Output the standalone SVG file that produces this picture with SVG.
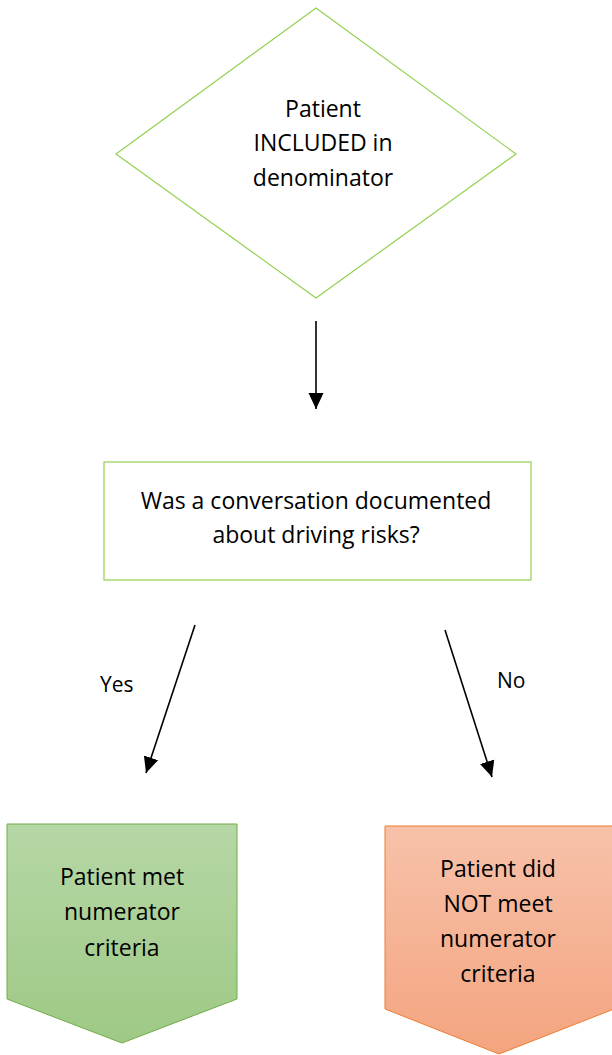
<svg xmlns="http://www.w3.org/2000/svg" width="612" height="1055" viewBox="0 0 612 1055">
  <style>
    .lbl { font-family: "Open Sans", "Liberation Sans", sans-serif; font-size: 23px; fill: #000; text-anchor: middle; }
    .edge { font-family: "Open Sans", "Liberation Sans", sans-serif; font-size: 21px; fill: #000; }
    .outline { fill: #fff; stroke: #92d050; stroke-width: 1.2; }
    .conn { stroke: #000; stroke-width: 1.6; fill: none; marker-end: url(#arrow); }
  </style>
  <defs>
    <marker id="arrow" viewBox="0 0 16 16" refX="16" refY="8" markerWidth="16" markerHeight="16" markerUnits="userSpaceOnUse" orient="auto">
      <path d="M0,0.5 L16,8 L0,15.5 z" fill="#000"/>
    </marker>
    <linearGradient id="gGreen" x1="0" y1="0" x2="0" y2="1">
      <stop offset="0" stop-color="#b6d7a6"/>
      <stop offset="1" stop-color="#9ec985"/>
    </linearGradient>
    <linearGradient id="gOrange" x1="0" y1="0" x2="0" y2="1">
      <stop offset="0" stop-color="#f7c2aa"/>
      <stop offset="1" stop-color="#f4a47f"/>
    </linearGradient>
  </defs>
  <rect width="612" height="1055" fill="#fff"/>

  <g id="included">
    <polygon class="outline" points="316,8 516,154 316,298 116,154"/>
    <text class="lbl" x="323" y="117">Patient</text>
    <text class="lbl" x="323" y="151">INCLUDED in</text>
    <text class="lbl" x="323" y="186">denominator</text>
  </g>

  <g id="question">
    <rect class="outline" x="104" y="462" width="427" height="118"/>
    <text class="lbl" x="316" y="509">Was a conversation documented</text>
    <text class="lbl" x="316" y="543">about driving risks?</text>
  </g>

  <g id="met">
    <polygon points="7,824 237,824 237,999 122,1043 7,999" fill="url(#gGreen)" stroke="#70ad47" stroke-width="1"/>
    <text class="lbl" x="122" y="885">Patient met</text>
    <text class="lbl" x="122" y="920">numerator</text>
    <text class="lbl" x="122" y="956">criteria</text>
  </g>

  <g id="notmet">
    <polygon points="385,826 614,826 614,1009 499,1054 385,1009" fill="url(#gOrange)" stroke="#ed7d31" stroke-width="1"/>
    <text class="lbl" x="498" y="877">Patient did</text>
    <text class="lbl" x="498" y="912">NOT meet</text>
    <text class="lbl" x="498" y="947">numerator</text>
    <text class="lbl" x="498" y="982">criteria</text>
  </g>

  <g id="connectors">
    <line class="conn" x1="316" y1="321" x2="316" y2="409"/>
    <line class="conn" x1="195" y1="625" x2="146" y2="773"/>
    <line class="conn" x1="445" y1="630" x2="492" y2="777"/>
    <text class="edge" x="100" y="692">Yes</text>
    <text class="edge" x="497" y="688">No</text>
  </g>
</svg>
